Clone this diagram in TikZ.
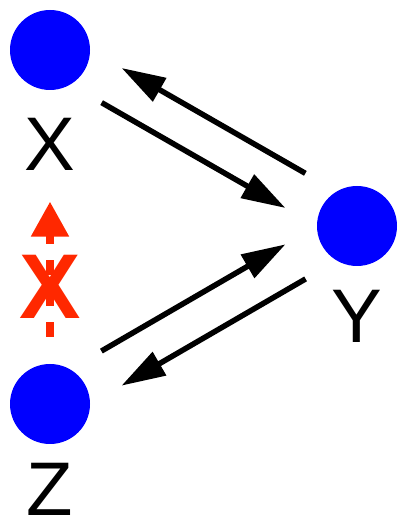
\documentclass[tikz,border=0pt]{standalone}
\usepackage{fontspec}
\setmainfont{Liberation Sans}
\usepackage{tikz}
\usetikzlibrary{positioning, calc, arrows.meta}
\definecolor{crossred}{RGB}{255,40,0}

\begin{document}
\begin{tikzpicture}[x=1pt, y=1pt,
    dot/.style={circle, fill=blue, minimum size=80pt, inner sep=0pt},
    lab/.style={inner sep=0pt, font=\fontsize{76}{76}\selectfont},
    arr/.style={line width=5.5pt, -{Triangle[length=44pt, width=26pt]}, shorten <=71pt, shorten >=71pt},
    noarr/.style={crossred, line width=8pt, dash pattern=on 15pt off 16pt, -{Triangle[length=35pt, width=36pt]}}]
    \useasboundingbox (0,0) rectangle (397,521);

    % Variables
    \foreach \n/\x/\y in {x/50/471, y/357/295, z/50/117} {
        \node[dot] (\n) at (\x,\y) {};
    }
    \node[lab, below=28pt of x] (xlab) {X};
    \node[lab, below=24pt of y] (ylab) {Y};
    \node[lab, below=19pt of z] (zlab) {Z};

    % X <-> Y
    \draw[arr] ($(x.center)!20pt!-90:(y.center)$) -- ($(y.center)!20pt!90:(x.center)$);
    \draw[arr] ($(y.center)!20pt!-90:(x.center)$) -- ($(x.center)!20pt!90:(y.center)$);

    % Z <-> Y
    \draw[arr] ($(z.center)!20pt!90:(y.center)$) -- ($(y.center)!20pt!-90:(z.center)$);
    \draw[arr] ($(y.center)!20pt!90:(z.center)$) -- ($(z.center)!20pt!-90:(y.center)$);

    % No link from Z to X
    \draw[noarr, shorten <=67pt, shorten >=57pt] (z.center) -- node[pos=0.45, inner sep=0pt, text=crossred, font=\bfseries\fontsize{92}{92}\selectfont] (cross) {X} (xlab.center);
\end{tikzpicture}
\end{document}
